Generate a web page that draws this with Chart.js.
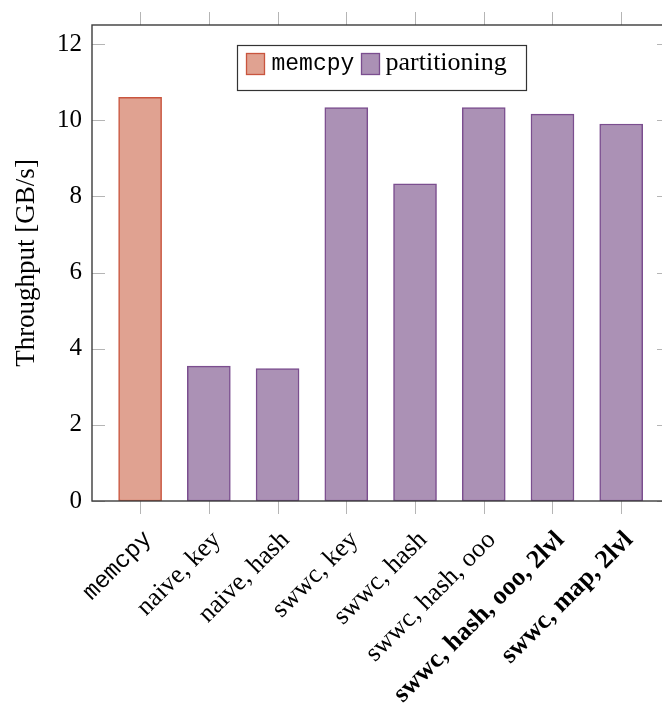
<!DOCTYPE html>
<html>
<head>
<meta charset="utf-8">
<script src="https://cdn.jsdelivr.net/npm/chart.js@4/dist/chart.umd.min.js"></script>
<style>
  html, body { margin: 0; padding: 0; background: #fff; overflow: hidden; width: 662px; height: 704px; }
  canvas { display: block; }
</style>
</head>
<body>
<canvas id="c" width="700" height="704"></canvas>
<script>
// Throughput per partitioning variant (GB/s)
const categories = ['memcpy', 'naive, key', 'naive, hash', 'swwc, key', 'swwc, hash',
                    'swwc, hash, ooo', 'swwc, hash, ooo, 2lvl', 'swwc, map, 2lvl'];
const memcpyCategories = ['memcpy'];
const memcpyValues = [10.6];
const partitioningCategories = ['naive, key', 'naive, hash', 'swwc, key', 'swwc, hash',
                                'swwc, hash, ooo', 'swwc, hash, ooo, 2lvl', 'swwc, map, 2lvl'];
const partitioningValues = [3.54, 3.48, 10.33, 8.33, 10.33, 10.16, 9.9];
const yTickValues = [0, 2, 4, 6, 8, 10, 12];
const boldCategories = ['swwc, hash, ooo, 2lvl', 'swwc, map, 2lvl'];
const monoCategories = ['memcpy'];

const SERIF = '"Liberation Serif", "Times New Roman", serif';
const MONO = '"Liberation Mono", "DejaVu Sans Mono", monospace';

const memcpyFill = '#e0a291', memcpyLine = '#c9553e';
const partFill = '#ab91b5', partLine = '#7b4e8f';

const toPoints = (cats, vals) => cats.map((c, i) => ({ x: categories.indexOf(c), y: vals[i] }));

// Axis frame, tick marks and the boxed legend inside the plot
const framePlugin = {
  id: 'frame',
  afterDatasetsDraw(chart) {
    const { ctx, chartArea: a, scales: { x, y } } = chart;
    ctx.save();
    ctx.strokeStyle = '#b5b5b5';
    ctx.lineWidth = 1;
    ctx.beginPath();
    yTickValues.forEach(v => {
      const py = Math.round(y.getPixelForValue(v)) + 0.5;
      ctx.moveTo(a.left, py); ctx.lineTo(a.left + 13, py);
      ctx.moveTo(a.right, py); ctx.lineTo(a.right - 13, py);
    });
    categories.forEach((c, i) => {
      const px = Math.round(x.getPixelForValue(i)) + 0.5;
      ctx.moveTo(px, a.top); ctx.lineTo(px, a.top - 13);
      ctx.moveTo(px, a.bottom); ctx.lineTo(px, a.bottom + 13);
    });
    ctx.stroke();

    ctx.strokeStyle = '#3c3c3c';
    ctx.lineWidth = 1.4;
    ctx.strokeRect(a.left, a.top, a.right - a.left, a.bottom - a.top);

    // legend
    const w = 289, h = 45;
    const lx = Math.round((a.left + a.right) / 2 - w / 2) + 0.5;
    const ly = Math.round(a.top + 20) + 0.5;
    ctx.fillStyle = '#fff';
    ctx.fillRect(lx, ly, w, h);
    ctx.strokeStyle = '#333';
    ctx.lineWidth = 1.2;
    ctx.strokeRect(lx, ly, w, h);

    const ds = chart.data.datasets;
    const sw = (sx, d) => {
      ctx.fillStyle = d.backgroundColor;
      ctx.fillRect(sx, ly + 8, 18, 21);
      ctx.strokeStyle = d.borderColor;
      ctx.lineWidth = 1.3;
      ctx.strokeRect(sx, ly + 8, 18, 21);
    };
    sw(lx + 9, ds[0]);
    ctx.fillStyle = '#000';
    ctx.textBaseline = 'alphabetic';
    ctx.textAlign = 'left';
    ctx.font = '23px ' + MONO;
    ctx.fillText(ds[0].label, lx + 34, ly + 24);
    sw(lx + 124, ds[1]);
    ctx.fillStyle = '#000';
    ctx.font = '26px ' + SERIF;
    ctx.fillText(ds[1].label, lx + 148, ly + 24);
    ctx.restore();
  }
};

new Chart(document.getElementById('c'), {
  type: 'bar',
  data: {
    datasets: [
      {
        label: 'memcpy',
        data: toPoints(memcpyCategories, memcpyValues),
        backgroundColor: memcpyFill,
        borderColor: memcpyLine,
        borderWidth: 1.5,
        borderSkipped: false,
        barThickness: 43,
        grouped: false
      },
      {
        label: 'partitioning',
        data: toPoints(partitioningCategories, partitioningValues),
        backgroundColor: partFill,
        borderColor: partLine,
        borderWidth: 1.5,
        borderSkipped: false,
        barThickness: 43,
        grouped: false
      }
    ]
  },
  options: {
    responsive: false,
    devicePixelRatio: 1,
    animation: false,
    layout: { padding: { top: 21, right: 30, left: 0, bottom: 0 } },
    plugins: { legend: { display: false }, tooltip: { enabled: false } },
    scales: {
      x: {
        type: 'linear',
        offset: false,
        min: -0.7,
        max: 7.71,
        grid: { display: false, drawTicks: false, offset: false },
        border: { display: false },
        afterBuildTicks(s) { s.ticks = categories.map((c, i) => ({ value: i })); },
        afterFit(s) { s.height = 203; },
        ticks: {
          autoSkip: false,
          minRotation: 45,
          maxRotation: 45,
          padding: 24,
          labelOffset: 8,
          color: '#000',
          callback: v => categories[v],
          font: ctx => {
            const name = categories[ctx.tick ? ctx.tick.value : 0];
            return {
              family: monoCategories.includes(name) ? MONO : SERIF,
              size: monoCategories.includes(name) ? 24 : 26,
              weight: boldCategories.includes(name) ? 'bold' : 'normal'
            };
          }
        }
      },
      y: {
        min: 0,
        max: 12.5,
        grid: { display: false, drawTicks: false },
        border: { display: false },
        afterBuildTicks(s) { s.ticks = yTickValues.map(v => ({ value: v })); },
        afterFit(s) { s.width = 92; },
        ticks: { padding: 10, color: '#000', font: { family: SERIF, size: 25 } },
        title: {
          display: true,
          text: 'Throughput [GB/s]',
          color: '#000',
          font: { family: SERIF, size: 27 },
          padding: { top: 11, bottom: 0 }
        }
      }
    }
  },
  plugins: [framePlugin]
});
</script>
</body>
</html>
